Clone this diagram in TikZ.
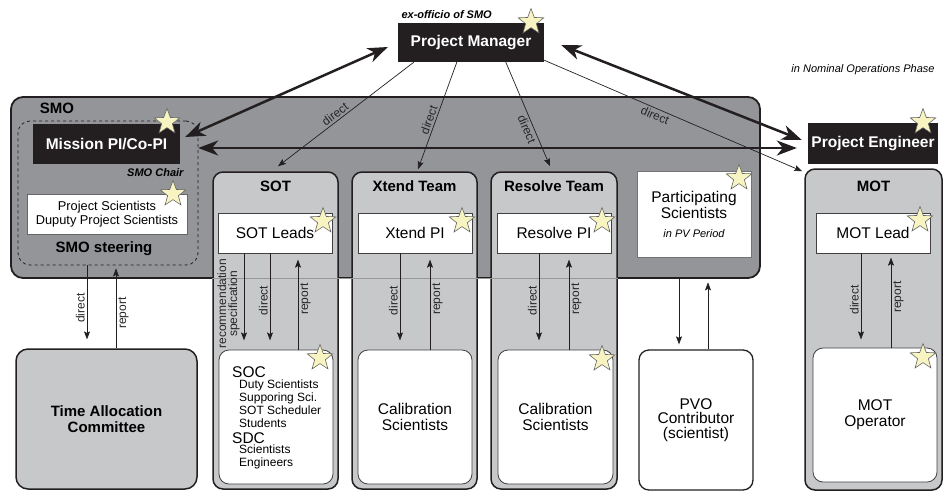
\documentclass[tikz,border=0pt]{standalone}
\usepackage{fontspec}
\setmainfont{Liberation Sans}
\usetikzlibrary{shapes.geometric,arrows.meta}
\definecolor{smogray}{HTML}{939598}
\definecolor{teamgray}{HTML}{C7C8CA}
\definecolor{inkblack}{HTML}{231F20}
\definecolor{staryellow}{HTML}{F7F4C1}
\tikzset{
  box/.style={rectangle, inner sep=0pt, align=center},
  blackbox/.style={box, fill=inkblack, text=white, font=\bfseries\fontsize{15.5}{17}\selectfont},
  team/.style={box, draw=inkblack, line width=1.5pt, fill=teamgray, rounded corners=10pt},
  leadbox/.style={box, draw=black!75, fill=white, line width=0.8pt, font=\fontsize{15.5}{16}\selectfont},
  staffbox/.style={leadbox, rounded corners=10pt},
  teamtitle/.style={font=\bfseries\fontsize{15}{17}\selectfont},
  starmark/.style={star, star points=5, star point ratio=2.4, minimum size=27pt, inner sep=0pt,
    fill=staryellow, draw=black!60, line width=0.6pt},
  bigarrow/.style={{Stealth[length=20pt,width=15pt,inset=6pt]}-{Stealth[length=20pt,width=15pt,inset=6pt]},
    line width=2.5pt, inkblack},
  link/.style={-{Stealth[length=8pt,width=6pt,inset=1.5pt]}, line width=0.7pt, inkblack},
  tag/.style={font=\fontsize{12}{12.5}\selectfont, inner sep=2pt, text=black!85},
  vtag/.style={tag, rotate=90},
  note/.style={font=\bfseries\itshape\fontsize{11}{12}\selectfont},
}
\begin{document}
\begin{tikzpicture}[x=1pt, y=-1pt]
\useasboundingbox (0,0) rectangle (945,491);

% SMO and steering group
\node[box, draw=inkblack, line width=1.8pt, fill=smogray, rounded corners=12pt,
  minimum width=749pt, minimum height=181pt] (smo) at (385.5,187.5) {};
\node[teamtitle] (smolbl) at (57,108) {SMO};
\node[box, draw=inkblack, dashed, line width=0.8pt, rounded corners=12pt,
  minimum width=180pt, minimum height=144pt] (steer) at (108,193) {};
\node[blackbox, minimum width=147pt, minimum height=40pt] (mpi) at (106.5,144) {Mission PI/Co-PI};
\node[note, anchor=east] (chair) at (187,173) {SMO Chair};
\node[leadbox, draw=black!60, font=\fontsize{12.8}{14}\selectfont, minimum width=160pt,
  minimum height=40pt] (ps) at (107,214) {Project Scientists\\Duputy Project Scientists};
\node[teamtitle] (steerlbl) at (104,249) {SMO steering};

% top level
\node[blackbox, minimum width=146pt, minimum height=39pt] (pm) at (471,42.5) {Project Manager};
\node[note, anchor=west] (exo) at (398,14.5) {ex-officio of SMO};
\node[blackbox, minimum width=130pt, minimum height=41pt] (pe) at (873,143.5) {Project Engineer};
\node[font=\itshape\fontsize{11}{12}\selectfont] (phase) at (863,70) {in Nominal Operations Phase};

% teams
\node[team, minimum width=125pt, minimum height=317pt] (sot) at (275.5,330.5) {};
\node[team, minimum width=125pt, minimum height=317pt] (xtend) at (414.5,330.5) {};
\node[team, minimum width=126pt, minimum height=317pt] (resolve) at (554,330.5) {};
\node[team, minimum width=137pt, minimum height=321pt] (mot) at (873.5,329.5) {};
\node[teamtitle] at ([yshift=-15pt]sot.north) {SOT};
\node[teamtitle] at ([yshift=-15pt]xtend.north) {Xtend Team};
\node[teamtitle] at ([yshift=-15pt]resolve.north) {Resolve Team};
\node[teamtitle] at ([yshift=-18pt]mot.north) {MOT};

\node[leadbox, minimum width=114pt, minimum height=40pt] (sotl) at (275,233) {SOT Leads};
\node[leadbox, minimum width=114pt, minimum height=40pt] (xpi) at (415,233) {Xtend PI};
\node[leadbox, minimum width=114pt, minimum height=40pt] (rpi) at (554,233) {Resolve PI};
\node[leadbox, minimum width=114pt, minimum height=40pt] (motl) at (873,233) {MOT Lead};
\node[leadbox, draw=black!55, minimum width=114pt, minimum height=86pt] (ptc) at (694,214)
  {Participating\\Scientists\\[3pt]{\itshape\fontsize{11}{12}\selectfont in PV Period}};

% lower boxes
\node[staffbox, minimum width=114pt, minimum height=134pt] (soc) at (276,417) {};
\node[align=left, anchor=north west, inner sep=0pt, font=\fontsize{12}{13.2}\selectfont] (soclist) at (232,366)
  {{\fontsize{15.5}{13}\selectfont SOC}\\[-2pt]
   \hspace*{7pt}Duty Scientists\\ \hspace*{7pt}Supporing Sci.\\ \hspace*{7pt}SOT Scheduler\\
   \hspace*{7pt}Students\\[2pt]
   {\fontsize{15.5}{13}\selectfont SDC}\\[-2.5pt]
   \hspace*{7pt}Scientists\\ \hspace*{7pt}Engineers};
\node[staffbox, minimum width=114pt, minimum height=134pt] (xcal) at (415,417) {Calibration\\Scientists};
\node[staffbox, minimum width=115pt, minimum height=134pt] (rcal) at (555.5,417) {Calibration\\Scientists};
\node[staffbox, draw=inkblack, line width=1.3pt, minimum width=114pt, minimum height=140pt,
  font=\fontsize{15.5}{14.5}\selectfont] (pvo) at (696,420) {PVO\\Contributor\\(scientist)};
\node[staffbox, minimum width=124pt, minimum height=134pt] (motop) at (875,415) {MOT\\Operator};
\node[box, draw=inkblack, line width=1.5pt, fill=teamgray, rounded corners=12pt, minimum width=181pt,
  minimum height=140pt, font=\bfseries\fontsize{15}{16}\selectfont] (tac) at (106.5,419)
  {Time Allocation\\Committee};

\draw[black!40, line width=1pt] (sot.west |- smo.south) -- (resolve.east |- smo.south);

% reporting lines
\draw[link] ([xshift=-21pt]steer.south) -- ++(0,74) node[pos=0.58, vtag, anchor=south] {direct};
\draw[link] ([xshift=9.5pt]tac.north) -- ([xshift=8pt,yshift=-3pt]steer.south)
  node[pos=0.44, vtag, anchor=north] {report};
\draw[link] ([xshift=-31pt]sotl.south) -- ++(0,87)
  node[pos=0.58, vtag, anchor=south, align=center, font=\fontsize{12}{11}\selectfont, inner sep=4pt]
  {recommendation\\specification};
\draw[link] ([xshift=-5pt]sotl.south) -- ++(0,87) node[pos=0.54, vtag, anchor=south] {direct};
\draw[link] ([xshift=22pt]soc.north) -- ++(0,-90) node[pos=0.56, vtag, anchor=north] {report};
\draw[link] ([xshift=-15pt]xpi.south) -- ++(0,87) node[pos=0.54, vtag, anchor=south] {direct};
\draw[link] ([xshift=15pt]xcal.north) -- ++(0,-90) node[pos=0.56, vtag, anchor=north] {report};
\draw[link] ([xshift=-15pt]rpi.south) -- ++(0,87) node[pos=0.54, vtag, anchor=south] {direct};
\draw[link] ([xshift=13.5pt]rcal.north) -- ++(0,-90) node[pos=0.56, vtag, anchor=north] {report};
\draw[link] ([xshift=-12pt]motl.south) -- ++(0,86) node[pos=0.54, vtag, anchor=south] {direct};
\draw[link] ([xshift=16pt]motop.north) -- ++(0,-90) node[pos=0.56, vtag, anchor=north] {report};
\draw[link] ([xshift=-17pt,yshift=72pt]pvo.north) -- ([xshift=-17pt,yshift=5pt]pvo.north);
\draw[link] ([xshift=12pt]pvo.north) -- ++(0,-67);

% direction from the project manager
\draw[link] ([xshift=16pt]pm.south west) -- ([shift={(2.5,-5)}]sot.north)
  node[pos=0.55, sloped, above, tag] {direct};
\draw[link] ([xshift=59pt]pm.south west) -- ([shift={(3.5,-2)}]xtend.north)
  node[pos=0.56, sloped, above, tag] {direct};
\draw[link] ([xshift=108pt]pm.south west) -- ([shift={(-4,-5)}]resolve.north)
  node[pos=0.62, sloped, below, tag] {direct};
\draw[link] ([yshift=2pt]pm.south east) -- ([shift={(-2,3)}]mot.north west)
  node[pos=0.44, sloped, below, tag] {direct};

\draw[bigarrow] ([shift={(-10,4.5)}]pm.west) -- ([shift={(5,-7)}]mpi.east);
\draw[bigarrow] ([shift={(17,2.5)}]pm.east) -- ([shift={(-6,-3.5)}]pe.west);
\draw[bigarrow] ([shift={(18,4)}]mpi.east) -- ([shift={(-11,4.5)}]pe.west);

% key persons
\foreach \p [count=\i] in {(531,22),(167,122),(173,194),(323,221),(462,221),(602,221),
    (739,178),(923,122),(920,220),(320,358),(602,359),(923,357)}
  \node[starmark] (star\i) at \p {};
\end{tikzpicture}
\end{document}
